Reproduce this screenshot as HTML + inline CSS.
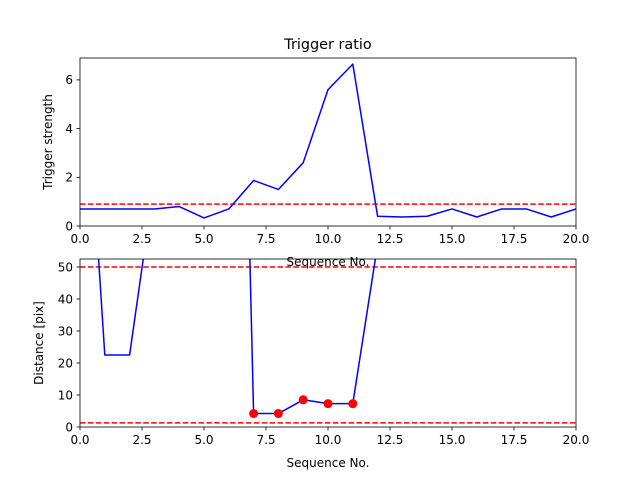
<!DOCTYPE html>
<html><head><meta charset="utf-8">
<style>
html,body{margin:0;padding:0;background:#fff;}
svg{display:block;font-family:"DejaVu Sans","Liberation Sans",sans-serif;}
</style></head>
<body>
<svg id="chart" width="640" height="480" viewBox="0 0 640 480" xmlns="http://www.w3.org/2000/svg">
<rect width="640" height="480" fill="#fff"/>
<defs>
<clipPath id="c1"><rect x="80" y="58" width="496" height="168"/></clipPath>
<clipPath id="c2"><rect x="80" y="259" width="496" height="168"/></clipPath>
</defs>
<text x="328" y="49" font-size="14.4" text-anchor="middle">Trigger ratio</text>
<g id="g1"></g>
<g id="g2"></g>
</svg>
<script>
const seqX = [0,1,2,3,4,5,6,7,8,9,10,11,12,13,14,15,16,17,18,19,20];
const triggerStrength = [0.7,0.7,0.7,0.7,0.8,0.33,0.7,1.87,1.5,2.6,5.6,6.65,0.4,0.37,0.4,0.7,0.37,0.7,0.7,0.37,0.7];
const triggerThreshold = 0.9;
const distance = [142,22.5,22.5,77,200,300,326,4.2,4.2,8.5,7.3,7.3,57,200,200,200,200,200,200,200,200];
const detectedIdx = [7,8,9,10,11];
const distThresholds = [50,1.3];
const xTicks = [0,2.5,5,7.5,10,12.5,15,17.5,20];
const xTickLabels = ["0.0","2.5","5.0","7.5","10.0","12.5","15.0","17.5","20.0"];
const y1Ticks = [0,2,4,6];
const y2Ticks = [0,10,20,30,40,50];

const NS="http://www.w3.org/2000/svg";
function mk(tag,attrs,parent,txt){const e=document.createElementNS(NS,tag);for(const k in attrs)e.setAttribute(k,attrs[k]);if(txt!==undefined)e.textContent=txt;parent.appendChild(e);return e;}
const L=80,R=576;
const xs=v=>L+(v-0)/(20-0)*(R-L);

function axes(g,top,bot,ymax,yTicks,ylabel,showXLabel,prefix){
  const ys=v=>bot-(v/ymax)*(bot-top);
  // ticks
  xTicks.forEach((t,i)=>{
    const tk=mk('line',{x1:xs(t),x2:xs(t),y1:bot,y2:bot+3.5,stroke:'#000','stroke-width':0.8},g);
    
    
    const lb=mk('text',{x:xs(t),y:bot+17,'font-size':12,'text-anchor':'middle'},g,xTickLabels[i]);
    
    
  });
  yTicks.forEach(t=>{
    const tk=mk('line',{x1:L-3.5,x2:L,y1:ys(t),y2:ys(t),stroke:'#000','stroke-width':0.8},g);
    
    
    const lb=mk('text',{x:L-7,y:ys(t)+4.3,'font-size':12,'text-anchor':'end'},g,String(t));
    
    
  });
  const yl=mk('text',{x:0,y:0,'font-size':12,'text-anchor':'middle',transform:`translate(${prefix==='top'?52:43},${(top+bot)/2}) rotate(-90)`},g,ylabel);
  
  
  return ys;
}

// top panel
const g1=document.getElementById('g1');
const T1=58,B1=226,Y1MAX=6.9;
const ys1=axes(g1,T1,B1,Y1MAX,y1Ticks,'Trigger strength',true,'top');
const xl1=mk('text',{x:328,y:266,'font-size':12,'text-anchor':'middle'},g1,'Sequence No.');


const p1=mk('g',{'clip-path':'url(#c1)'},g1);
const th1=mk('line',{x1:L,x2:R,y1:ys1(triggerThreshold),y2:ys1(triggerThreshold),stroke:'#ff0000','stroke-width':1.5,'stroke-dasharray':'5.5,2.4'},p1);


const l1=mk('polyline',{points:seqX.map((x,i)=>xs(x)+','+ys1(triggerStrength[i])).join(' '),fill:'none',stroke:'#0000ff','stroke-width':1.5,'stroke-linejoin':'round'},p1);


const f1=mk('rect',{x:L,y:T1,width:R-L,height:B1-T1,fill:'none',stroke:'#000','stroke-width':0.8},g1);



// bottom panel
const g2=document.getElementById('g2');
const T2=259,B2=427,Y2MAX=52.5;
const ys2=axes(g2,T2,B2,Y2MAX,y2Ticks,'Distance [pix]',true,'bottom');
const xl2=mk('text',{x:328,y:467,'font-size':12,'text-anchor':'middle'},g2,'Sequence No.');


const p2=mk('g',{'clip-path':'url(#c2)'},g2);
distThresholds.forEach(v=>{
  const t=mk('line',{x1:L,x2:R,y1:ys2(v),y2:ys2(v),stroke:'#ff0000','stroke-width':1.5,'stroke-dasharray':'5.5,2.4'},p2);
  
  
});
const l2=mk('polyline',{points:seqX.map((x,i)=>xs(x)+','+ys2(distance[i])).join(' '),fill:'none',stroke:'#0000ff','stroke-width':1.5,'stroke-linejoin':'round'},p2);


detectedIdx.forEach(i=>{
  const c=mk('circle',{cx:xs(seqX[i]),cy:ys2(distance[i]),r:4.5,fill:'#ff0000'},p2);
  
  
});
const f2=mk('rect',{x:L,y:T2,width:R-L,height:B2-T2,fill:'none',stroke:'#000','stroke-width':0.8},g2);


</script>
</body></html>
